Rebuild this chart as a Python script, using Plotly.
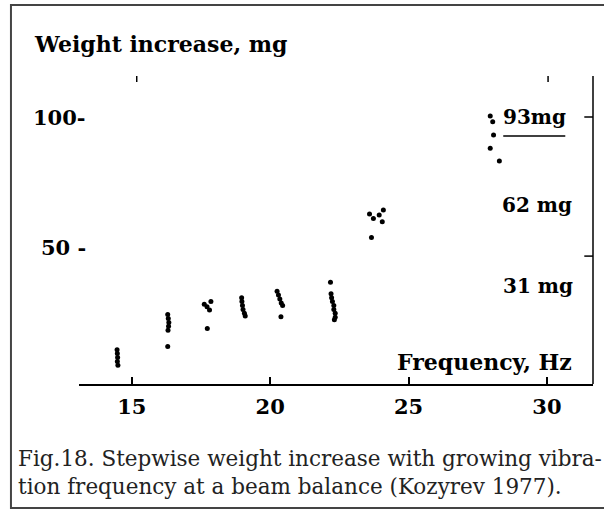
import plotly.graph_objects as go

# ---- data ----
freq = [14.47, 14.48, 14.49, 14.48, 14.50,
        16.30, 16.32, 16.34, 16.33, 16.31, 16.30,
        17.62, 17.72, 17.81, 17.86, 17.73,
        18.97, 18.98, 19.00, 19.02, 19.07, 19.10,
        20.25, 20.30, 20.35, 20.40, 20.45, 20.39,
        22.18, 22.20, 22.22, 22.25, 22.30, 22.30, 22.35, 22.35, 22.32,
        23.59, 23.73, 23.94, 24.09, 24.05, 23.66,
        27.95, 28.04, 28.07, 27.95, 28.28]
weight = [10.5, 9.0, 7.5, 6.0, 4.5,
          24.0, 22.5, 21.0, 19.5, 18.0, 11.7,
          28.0, 27.0, 25.8, 29.0, 18.7,
          30.5, 29.0, 27.5, 26.0, 24.5, 23.5,
          33.0, 31.5, 30.0, 28.5, 27.5, 23.2,
          36.4, 32.0, 30.5, 29.0, 27.5, 26.0, 24.5, 23.0, 22.0,
          62.7, 61.0, 62.3, 64.2, 59.7, 53.7,
          100.4, 98.2, 93.1, 88.0, 83.1]
x_ticks = [15, 20, 25, 30]
x_ticklabels = ["15", "20", "25", "30"]
y_ticks = [100, 50]
y_ticklabels = ["100-", "50 -"]
level_labels = ["93mg", "62 mg", "31 mg"]
right_ticks = [100, 46.5]
top_ticks = [15.18, 30.04]

W, H = 604, 510
L, R, T, B = 79, 592.7, 76, 384  # plot area in pixels


def px(xp):
    return (xp - L) / (R - L)


def py(yp):
    return (B - yp) / (B - T)


BOLD = "DejaVu Serif"
fig = go.Figure()
fig.add_trace(go.Scatter(x=freq, y=weight, mode="markers",
                         marker=dict(color="black", size=5, symbol="circle"),
                         hoverinfo="skip", showlegend=False))

ann = []
# title
ann.append(dict(text="<b>Weight increase, mg</b>", xref="paper", yref="paper",
                x=px(32), y=py(44), xanchor="left", yanchor="middle",
                showarrow=False, font=dict(family=BOLD, size=22, color="black")))
# y tick labels
for v, t in zip(y_ticks, y_ticklabels):
    ann.append(dict(text="<b>%s</b>" % t, xref="paper", yref="y", x=px(88), y=v,
                    xanchor="right", yanchor="middle", showarrow=False,
                    font=dict(family=BOLD, size=21, color="black")))
# level labels
for (xc, yc), t in zip([(534, 117), (537, 205), (538, 286)], level_labels):
    ann.append(dict(text="<b>%s</b>" % t, xref="paper", yref="paper",
                    x=px(xc), y=py(yc), xanchor="center", yanchor="middle",
                    showarrow=False, font=dict(family=BOLD, size=20, color="black")))
# x axis title
ann.append(dict(text="<b>Frequency, Hz</b>", xref="paper", yref="paper",
                x=px(574), y=py(362), xanchor="right", yanchor="middle",
                showarrow=False, font=dict(family=BOLD, size=22, color="black")))
# caption (one text, two lines)
cap = ["Fig.18. Stepwise weight increase with growing vibra-",
       "tion frequency at a beam balance (Kozyrev 1977)."]
ann.append(dict(text="<br>".join(cap), xref="paper", yref="paper", x=px(16), y=py(473),
                xanchor="left", yanchor="middle", align="left", showarrow=False,
                font=dict(family="DejaVu Serif", size=21.5, color="#222")))

shapes = []
# outer frame (cropped on the right)
shapes.append(dict(type="rect", xref="paper", yref="paper",
                   x0=px(11), x1=px(640), y0=py(508), y1=py(5),
                   line=dict(color="#444", width=2)))
# right axis line
shapes.append(dict(type="line", xref="paper", yref="paper", x0=1, x1=1, y0=0, y1=1,
                   line=dict(color="black", width=1.5)))
for v in right_ticks:
    shapes.append(dict(type="line", xref="paper", yref="y", x0=px(584), x1=1, y0=v, y1=v,
                       line=dict(color="black", width=1.5)))
for v in top_ticks:
    shapes.append(dict(type="line", xref="x", yref="paper", x0=v, x1=v, y0=1, y1=py(82),
                       line=dict(color="black", width=1.5)))
# underline of 93mg
shapes.append(dict(type="line", xref="paper", yref="paper", x0=px(503), x1=px(565),
                   y0=py(136), y1=py(136), line=dict(color="black", width=1.5)))

fig.update_layout(
    width=W, height=H, margin=dict(l=L, r=W - R, t=T, b=H - B),
    paper_bgcolor="white", plot_bgcolor="white",
    annotations=ann, shapes=shapes,
    xaxis=dict(range=[15 - (131.7 - L) / 27.66, 30 + (R - 546.7) / 27.66],
               showgrid=False, zeroline=False, showline=True, linecolor="black",
               linewidth=1.5, ticks="inside", ticklen=7, tickwidth=1.5, tickcolor="black",
               tickvals=x_ticks, ticktext=["<b>%s</b>" % t for t in x_ticklabels],
               tickfont=dict(family=BOLD, size=21, color="black"), ticklabelstandoff=3),
    yaxis=dict(range=[(377 - B) / 2.6, (377 - T) / 2.6], showgrid=False, zeroline=False,
               showline=False, showticklabels=False, ticks=""),
)
fig.write_html("out.html", config={"displayModeBar": False},
               post_script="document.body.style.margin='0';")
